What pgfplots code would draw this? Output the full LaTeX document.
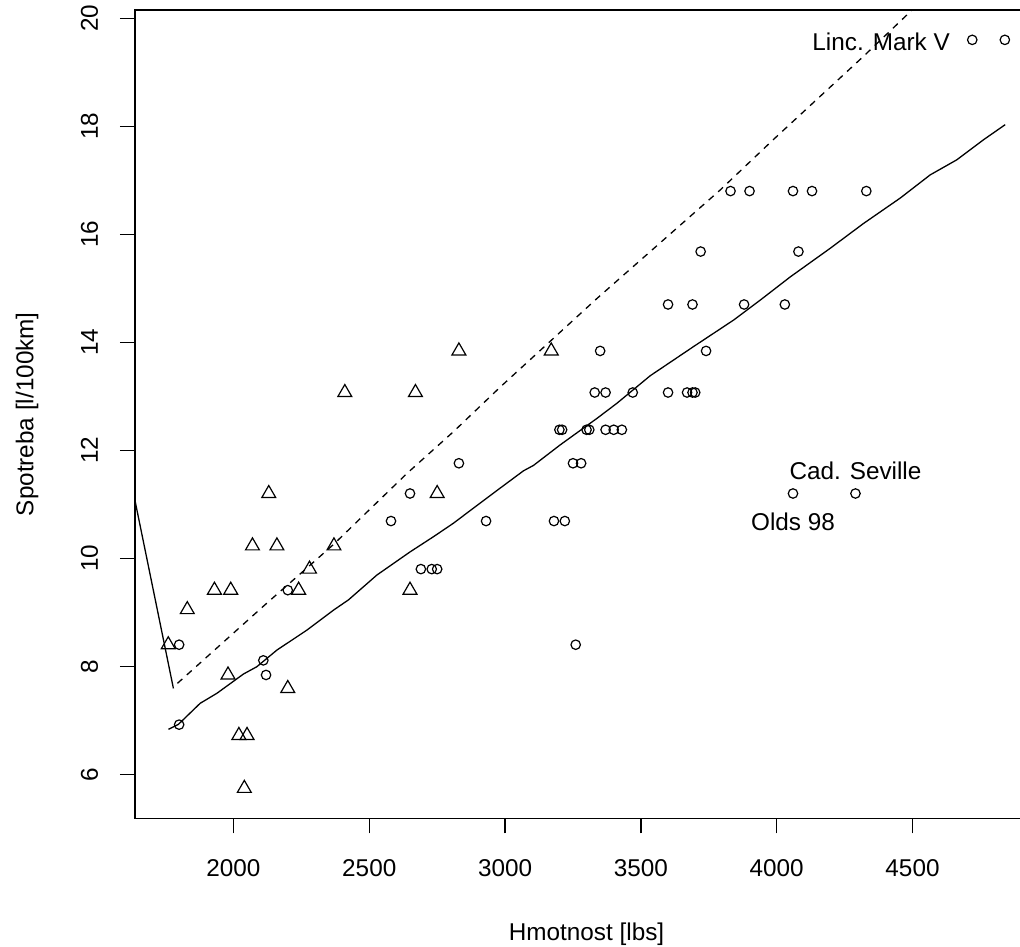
\documentclass[border=0pt]{standalone}
\usepackage{fontspec}
\setmainfont{Liberation Sans}
\usepackage{pgfplots}
\pgfplotsset{compat=1.18}
\begin{document}
\fontsize{12.15}{14}\selectfont
\begin{tikzpicture}
\begin{axis}[
  at={(0pt,0pt)}, anchor=south west,
  scale only axis, width=451.75pt, height=404.3pt,
  xmin=1636.8, xmax=4963.2, ymin=5.182, ymax=20.155,
  axis line style={line width=0.7pt},
  xtick={2000,2500,3000,3500,4000,4500},
  ytick={6,8,10,12,14,16,18,20},
  tick align=outside, major tick length=7.4pt,
  tick style={line width=0.7pt, black},
  xtick pos=bottom, ytick pos=left,
  minor tick num=0,
  /pgf/number format/assume math mode=true,
  /pgf/number format/1000 sep={},
  scaled x ticks=false,
  xticklabel style={anchor=base},
  yticklabel style={rotate=90, anchor=base},
  xticklabel shift=21.5pt,
  yticklabel shift=11.0pt,
  xlabel={Hmotnost [lbs]},
  ylabel={Spotreba [l/100km]},
  xlabel style={at={(axis description cs:0.5,-0.15026)}, anchor=base},
  ylabel style={at={(axis description cs:-0.11234,0.5)}, anchor=base},
]
% domestic cars (circles)
\addplot[only marks, mark=o, mark size=2.37pt, mark options={line width=0.6pt, black}] table {
x y
2930 10.69
3350 13.84
3250 11.76
4080 15.68
3670 13.07
3280 11.76
3880 14.70
3400 12.38
4330 16.80
3900 16.80
4290 11.20
2110 8.11
3690 14.70
3180 10.69
3220 10.69
2750 9.80
3430 12.38
2120 7.84
3600 13.07
3600 14.70
3740 13.84
1800 8.40
2650 11.20
4840 19.60
4720 19.60
3830 16.80
2580 10.69
4060 16.80
3720 15.68
3370 13.07
4130 16.80
2830 11.76
4060 11.20
3310 12.38
3300 12.38
3690 13.07
3370 12.38
2730 9.80
4030 14.70
3260 8.40
1800 6.92
2200 9.41
3330 13.07
3700 13.07
3470 13.07
3210 12.38
3200 12.38
2690 9.80
};
% foreign cars (triangles)
\addplot[only marks, mark=triangle, mark size=4pt, mark options={line width=0.6pt, black}] table {
x y
2830 13.84
2070 10.23
2650 9.41
2370 10.23
2020 6.72
2280 9.80
2750 11.20
2130 11.20
2240 9.41
1760 8.40
1980 7.84
1830 9.05
2050 6.72
2410 13.07
2200 7.59
2670 13.07
2160 10.23
2040 5.74
1930 9.41
1990 9.41
3170 13.84
};
% smooth curve (solid)
\addplot[black, line width=0.65pt, mark=none] table {
x y
1760.7 6.833
1797.5 6.926
1877.4 7.315
1938.9 7.50
2036.8 7.857
2086.2 7.993
2159.8 8.30
2270.3 8.67
2368.2 9.04
2423.4 9.23
2528.0 9.69
2650.6 10.12
2736.4 10.40
2810.0 10.65
2883.7 10.93
2982.0 11.30
3067.7 11.62
3104.6 11.72
3202.9 12.10
3338.0 12.59
3411.6 12.87
3534.2 13.38
3693.7 13.92
3840.9 14.41
3939.2 14.78
4049.7 15.21
4196.9 15.74
4319.6 16.20
4454.7 16.67
4565.2 17.10
4663.5 17.38
4761.4 17.75
4841.3 18.03
};
% short solid segment
\addplot[black, line width=0.65pt, mark=none] table {
x y
1620 11.50
1779 7.59
};
% dashed curve
\addplot[black, line width=0.65pt, mark=none, dash pattern=on 3.3pt off 3pt] table {
x y
1793.8 7.685
2123.0 9.17
2276.0 9.845
2367.0 10.25
2638.4 11.57
2808.9 12.34
2982.0 13.17
3338.0 14.81
3792.0 16.82
3987.0 17.75
4318.5 19.29
4491.6 20.12
4560.0 20.45
};
\node[anchor=base east, xshift=-7pt, yshift=-5.35pt] at (axis cs:4720,19.6) {Linc. Mark V};
\node[anchor=base, yshift=7.1pt] at (axis cs:4290,11.2) {Cad. Seville};
\node[anchor=base, yshift=-18.6pt] at (axis cs:4060,11.2) {Olds 98};
\end{axis}
\pgfresetboundingbox
\useasboundingbox (-67.4pt,-63.75pt) rectangle (442.6pt,409.25pt);
\end{tikzpicture}
\end{document}
